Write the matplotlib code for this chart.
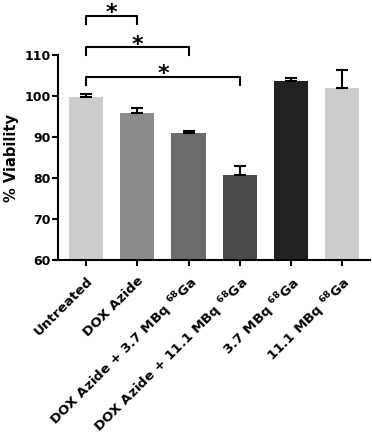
import matplotlib
matplotlib.use("Agg")
import matplotlib.pyplot as plt

categories = ["Untreated", "DOX Azide", "DOX Azide + 3.7 MBq $^{68}$Ga",
              "DOX Azide + 11.1 MBq $^{68}$Ga", "3.7 MBq $^{68}$Ga", "11.1 MBq $^{68}$Ga"]
values = [99.8, 95.9, 90.9, 80.7, 103.7, 101.9]
errors = [0.6, 1.1, 0.6, 2.2, 0.8, 4.5]
colors = ["#cccccc", "#8c8c8c", "#6b6b6b", "#4a4a4a", "#222222", "#cccccc"]
brackets = [(0, 1, 119.6), (0, 2, 111.9), (0, 3, 104.7)]
yticks = [60, 70, 80, 90, 100, 110]

plt.rcParams['font.family'] = ['DejaVu Sans']
plt.rcParams['font.weight'] = 'bold'
plt.rcParams['mathtext.fontset'] = 'dejavusans'

fig = plt.figure(figsize=(3.72, 4.40), dpi=100)
ax = fig.add_axes([0.156, 0.409, 0.839, 0.466])

x = list(range(len(categories)))
ax.bar(x, values, width=0.67, color=colors, zorder=2)
ax.errorbar(x, values, yerr=[[0] * len(errors), errors], fmt='none',
            ecolor='black', elinewidth=1.5, capsize=4, capthick=1.5, zorder=3)

ax.set_ylim(60, 110)
ax.set_xlim(-0.55, 5.55)
ax.set_yticks(yticks)
ax.set_xticks(x)
ax.set_xticklabels(categories, rotation=45, ha='right', rotation_mode='anchor',
                   fontsize=9.7, fontweight='bold')
ax.tick_params(axis='y', labelsize=9, width=1.5, length=4, pad=1)
ax.tick_params(axis='x', width=1.5, length=4, pad=6)
for lbl in ax.get_yticklabels():
    lbl.set_fontweight('bold')
ax.set_ylabel("% Viability", fontsize=10.5, fontweight='bold', labelpad=4)

for s in ['top', 'right']:
    ax.spines[s].set_visible(False)
for s in ['left', 'bottom']:
    ax.spines[s].set_linewidth(1.5)

for a, b, y in brackets:
    ax.plot([a, a, b, b], [y - 2, y, y, y - 2], color='black', lw=1.5,
            clip_on=False, zorder=4)
    ax.annotate("*", xy=((a + b) / 2, y), xytext=(0, -2.5), textcoords='offset points',
                ha='center', va='baseline', fontsize=16, fontweight='bold',
                family='DejaVu Sans', annotation_clip=False)

fig.savefig("out.png", dpi=100)
